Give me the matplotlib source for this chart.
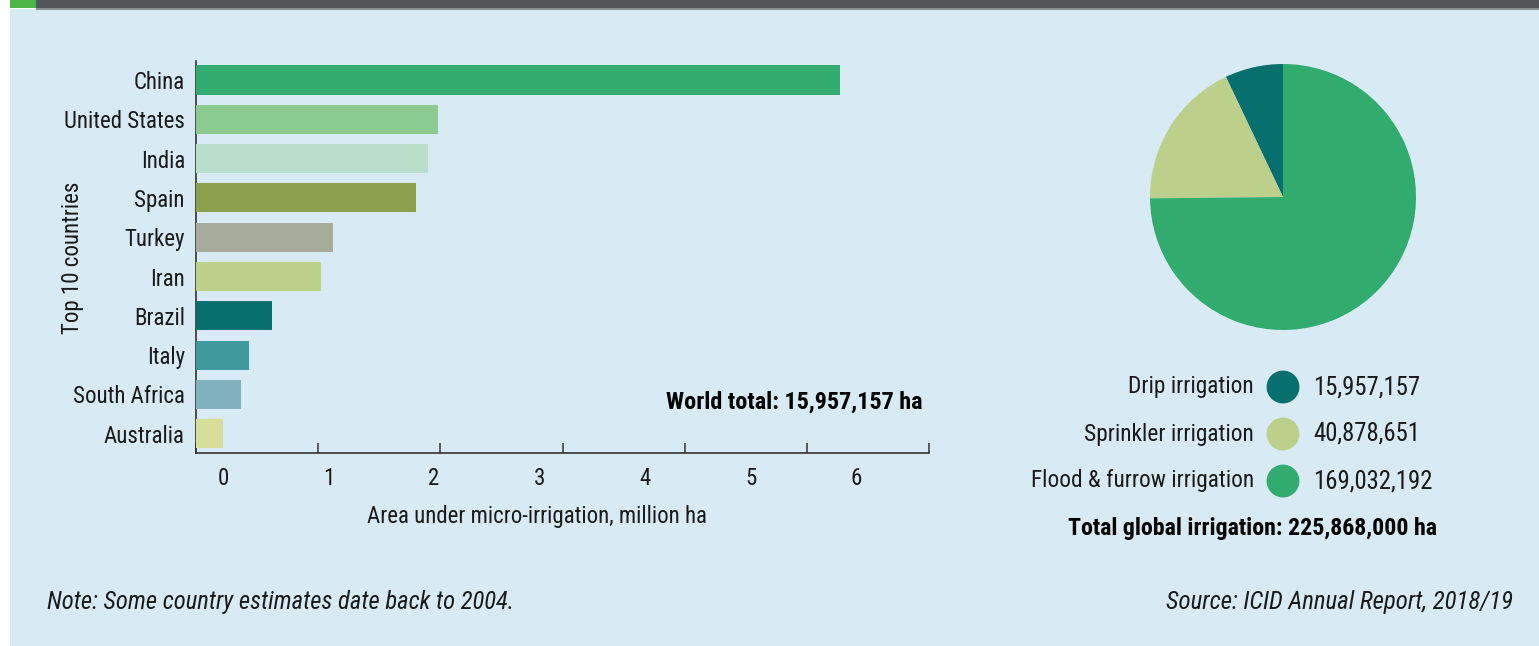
import matplotlib
matplotlib.use("Agg")
import matplotlib.pyplot as plt
import numpy as np

plt.rcParams['font.family'] = ['Roboto Condensed', 'DejaVu Sans']

# micro-irrigation by country, million ha
countries = ["China", "United States", "India", "Spain", "Turkey",
             "Iran", "Brazil", "Italy", "South Africa", "Australia"]
areas = [5.27, 1.98, 1.90, 1.80, 1.12, 1.02, 0.62, 0.43, 0.37, 0.22]
bar_colors = ["#32ac6e", "#8bcb91", "#b9dfcb", "#8da04e", "#a6ab9a",
              "#bccf8b", "#086f6f", "#409a9d", "#80b2bd", "#d7de9a"]
xtick_labels = ["0", "1", "2", "3", "4", "5", "6"]

# global irrigation by method, ha
methods = ["Drip irrigation", "Sprinkler irrigation", "Flood & furrow irrigation"]
method_ha = [15957157, 40878651, 169032192]
method_colors = ["#086f6f", "#bccf8b", "#32ac6e"]

BG = "#d8ebf4"
TXT = "#1a1a1a"
FS = 16.5

fig = plt.figure(figsize=(15.39, 6.46), dpi=100)
fig.patch.set_facecolor("white")
W, H = 1539, 646

def fx(px):
    return px / W

def fy(py):
    return 1 - py / H

# light panel + header strip
for rect, col in [((10, 9, W, H), BG),
                  ((36, 0, W, 8), "#515557"),
                  ((36, 8, W, 9.5), "#8a9294"),
                  ((10, 0, 36, 8), "#4cb748")]:
    x0, y0, x1, y1 = rect
    fig.patches.append(plt.Rectangle((fx(x0), fy(y1)), fx(x1 - x0), fy(y0) - fy(y1),
                                     transform=fig.transFigure, facecolor=col,
                                     edgecolor="none", zorder=-5))

# ---- bar chart ----
ax = fig.add_axes([fx(196), fy(453), fx(929 - 196), fy(60.7) - fy(453)])
ax.set_facecolor("none")
y = np.arange(len(countries))
ax.barh(y, areas, height=0.74, color=bar_colors, zorder=3)
ax.set_ylim(9.49, -0.49)
ax.set_xlim(0, 6)
ax.set_yticks(y, countries)
ax.tick_params(axis="y", length=0, pad=8, labelsize=FS, labelcolor=TXT)
ax.set_xticks(range(7), [""] * 7)
ax.tick_params(axis="x", which="major", direction="in", length=7.5, width=1.1, color="#333333")
label_pos = 0.22 + 0.864 * np.arange(len(xtick_labels))
ax.set_xticks(label_pos, xtick_labels, minor=True)
ax.tick_params(axis="x", which="minor", length=0, pad=10, labelsize=FS, labelcolor=TXT)
for s in ["top", "right"]:
    ax.spines[s].set_visible(False)
for s in ["left", "bottom"]:
    ax.spines[s].set_color("#333333")
    ax.spines[s].set_linewidth(1.2)

fig.text(fx(72), fy(258), "Top 10 countries", rotation=90, ha="center", va="center",
         fontsize=FS, color=TXT)
fig.text(fx(537), fy(516), "Area under micro-irrigation, million ha", ha="center", va="center",
         fontsize=FS, color=TXT)
fig.text(fx(923), fy(402), "World total: 15,957,157 ha", ha="right", va="center",
         fontsize=17.4, fontweight="bold", color="black")

# ---- pie ----
pax = fig.add_axes([fx(1150), fy(330), fx(266), fy(64) - fy(330)])
pax.pie(method_ha, colors=method_colors, startangle=90, counterclock=True,
        wedgeprops=dict(linewidth=0))
pax.set_xlim(-1, 1)
pax.set_ylim(-1, 1)
pax.axis("off")

# ---- legend for pie ----
row_y = [387, 434, 481]
for name, val, ry in zip(methods, method_ha, row_y):
    fig.text(fx(1254), fy(ry), name, ha="right", va="center", fontsize=FS + 0.3, color=TXT)
    fig.text(fx(1313), fy(ry), f"{val:,}", ha="left", va="center", fontsize=17.8, color=TXT)
lax = fig.add_axes([0, 0, 1, 1], facecolor="none")
lax.set_xlim(0, W)
lax.set_ylim(H, 0)
lax.axis("off")
lax.scatter([1283] * len(row_y), row_y, s=560, c=method_colors, edgecolors="none")
fig.text(fx(1252), fy(529), "Total global irrigation: 225,868,000 ha", ha="center", va="center",
         fontsize=17.2, fontweight="bold", color="black")

fig.text(fx(47), fy(602), "Note: Some country estimates date back to 2004.", ha="left", va="center",
         fontsize=17.7, style="italic", color=TXT)
fig.text(fx(1513), fy(602), "Source: ICID Annual Report, 2018/19", ha="right", va="center",
         fontsize=17.9, style="italic", color=TXT)

fig.savefig("out.png", dpi=100, facecolor=fig.get_facecolor())
